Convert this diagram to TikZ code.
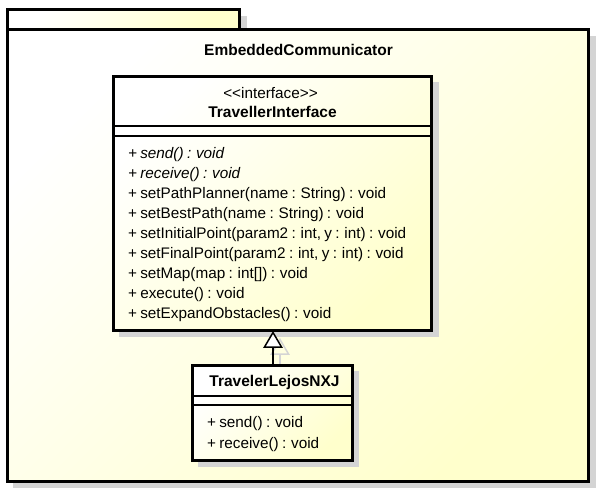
\documentclass[tikz,border=0pt]{standalone}
\usepackage{fontspec}
\setmainfont{Liberation Sans}[Ligatures=TeXOff]
\newcommand{\opfont}{\fontsize{15.3}{18}\selectfont\spaceskip=0.22em\relax}
\begin{document}
\begin{tikzpicture}[x=1pt,y=-1pt,
  every node/.style={inner sep=0pt, outer sep=0pt},
  shadowfill/.style={fill=shadowG, draw=none},
  umlbox/.style={draw=black, line width=3pt, top color=white, bottom color=fillY, shading angle=45, inner sep=0pt},
  sepline/.style={line width=1.5pt},
  optext/.style={anchor=base west, font=\opfont},
  opital/.style={anchor=base west, font=\opfont\itshape},
  titletext/.style={anchor=base, font=\fontsize{15.5}{18}\selectfont\bfseries},
  stereotext/.style={anchor=base, font=\fontsize{15.3}{18}\selectfont},
  inherit/.style={line width=1.8pt},
  shadowline/.style={draw=shadowG, line width=1.5pt}
]
\definecolor{fillY}{RGB}{255,255,204}
\definecolor{shadowG}{RGB}{212,212,212}
\useasboundingbox (0,0) rectangle (603,493);

% package shadow
\fill[shadowfill] (13,16) rectangle (247,36);
\fill[shadowfill] (13,36) rectangle (595.5,488);
% package
\node[umlbox, minimum width=232.2pt, minimum height=20pt] (tab) at (123.1,19.7) {};
\node[umlbox, minimum width=581.7pt, minimum height=451.3pt] (pkg) at (297.85,255.35) {};
\node[titletext] (pkgname) at (298.5,55.7) {EmbeddedCommunicator};

% shadows of inner elements
\fill[shadowfill] (119.3,82) rectangle (438.7,337.3);
\fill[shadowfill] (198.3,371) rectangle (359,467);
\draw[shadowline] (280,354) -- (280,371);
\draw[shadowline] (280,339.5) -- (288.5,354) -- (271.5,354) -- cycle;

% interface
\node[umlbox, minimum width=318.4pt, minimum height=254.3pt] (iface) at (272.5,203.15) {};
\node[stereotext] (stereo) at (270.5,98) {<<interface>>};
\node[titletext] (ifacename) at (272.5,117) {TravellerInterface};
\draw[sepline] (iface.west |- 0,126) -- (iface.east |- 0,126);
\draw[sepline] (iface.west |- 0,136) -- (iface.east |- 0,136);
\node[opital] (op1) at (128,158) {+ send() : void};
\node[opital] (op2) at (128,178.1) {+ receive() : void};
\node[optext] (op3) at (128,198.2) {+ setPathPlanner(name : String) : void};
\node[optext] (op4) at (128,218.3) {+ setBestPath(name : String) : void};
\node[optext] (op5) at (128,238.4) {+ setInitialPoint(param2 : int, y : int) : void};
\node[optext] (op6) at (128,258.5) {+ setFinalPoint(param2 : int, y : int) : void};
\node[optext] (op7) at (128,278.6) {+ setMap(map : int[]) : void};
\node[optext] (op8) at (128,298.7) {+ execute() : void};
\node[optext] (op9) at (128,318.8) {+ setExpandObstacles() : void};

% class
\node[umlbox, minimum width=159.7pt, minimum height=95pt] (cls) at (272.15,412.5) {};
\node[titletext] (clsname) at (274.5,386.7) {TravelerLejosNXJ};
\draw[sepline] (cls.west |- 0,396) -- (cls.east |- 0,396);
\draw[sepline] (cls.west |- 0,405) -- (cls.east |- 0,405);
\node[optext] (cop1) at (207,427.5) {+ send() : void};
\node[optext] (cop2) at (207,448) {+ receive() : void};

% generalization
\coordinate (tip) at (273,332.5);
\coordinate (base) at (273,347);
\draw[inherit] (cls.north -| base) -- (base);
\draw[line width=1.5pt, fill=white] (tip) -- ([xshift=8.5pt]base) -- ([xshift=-8.5pt]base) -- cycle;
\end{tikzpicture}
\end{document}
